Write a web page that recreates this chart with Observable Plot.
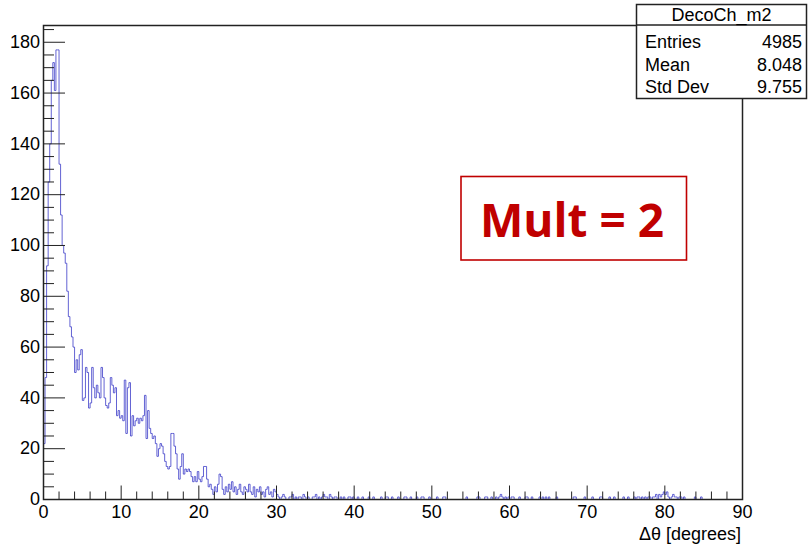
<!DOCTYPE html>
<html><head><meta charset="utf-8">
<script src="https://cdn.jsdelivr.net/npm/d3@7"></script>
<script src="https://cdn.jsdelivr.net/npm/@observablehq/plot@0.6"></script>
<style>
html,body{margin:0;padding:0;background:#fff;}
#chart{position:relative;width:809px;height:547px;}
</style></head><body><div id="chart"></div>
<script>
// ---- data ----
const binWidth = 0.2;
const xRange = [0, 90];
const counts = [
  // 0-30 deg
  22,48,92,125,140,165,172,161,177,177,
  132,112,100,97,93,82,72,68,64,60,
  50,55,51,57,59,39,40,52,50,36,
  38,52,44,40,45,42,40,52,48,40,
  37,36,38,48,45,42,44,33,35,32,
  33,31,47,26,44,46,25,33,29,31,
  32,30,32,31,33,41,24,35,28,26,
  24,25,22,17,20,22,21,18,15,13,
  12,13,26,26,21,18,12,8,13,18,
  10,12,11,12,11,9,7,9,7,11,
  8,7,9,13,13,8,5,6,4,2,
  5,3,6,10,9,4,2,5,3,6,
  4,7,3,5,2,4,6,3,2,5,
  4,3,6,3,2,5,1,4,3,5,
  2,3,1,4,5,2,3,1,4,3,
  // 30-40 deg
  2,1,0,1,2,1,0,0,1,1, 2,0,1,0,1,1,0,2,1,0, 1,0,0,1,1,2,0,1,0,1, 2,1,1,0,2,1,0,1,1,0, 0,1,0,1,0,0,1,1,0,1,
  // 40-50 deg
  0,0,1,0,0,1,0,0,0,1, 0,0,1,0,0,0,0,1,0,0, 1,1,0,0,1,0,0,0,1,0, 0,0,1,1,0,0,1,0,0,0, 1,0,0,1,1,0,0,0,1,0,
  // 50-60 deg
  0,0,0,1,0,0,0,1,1,0, 0,0,0,0,0,0,0,0,0,0, 0,0,1,0,0,0,0,0,0,1, 1,0,0,0,1,1,0,0,1,0, 0,1,0,1,2,1,0,1,0,1,
  // 60-70 deg
  0,1,1,0,0,0,1,0,0,0, 1,1,0,0,1,0,0,0,0,1, 0,1,0,1,0,1,0,0,0,0, 1,0,0,0,0,0,0,0,0,0, 0,1,1,0,0,0,0,0,1,0,
  // 70-80 deg
  0,0,0,1,0,0,0,0,1,1, 0,0,0,0,1,0,0,1,0,0, 0,0,0,1,0,0,1,0,0,0, 1,0,1,1,0,1,0,1,0,1, 1,0,1,1,2,0,2,1,2,3,
  // 80-90 deg
  2,3,1,0,1,2,1,1,0,1, 1,0,1,0,0,0,0,0,0,1, 0,0,0,1,0,0,0,0,0,0, 0,0,0,0,0,0,0,0,0,0, 0,0,0,0,0,0,0,0,0,0
];
const xMajorTicks = [0,10,20,30,40,50,60,70,80,90];
const xMinorTicks = [2,4,6,8,12,14,16,18,22,24,26,28,32,34,36,38,42,44,46,48,52,54,56,58,62,64,66,68,72,74,76,78,82,84,86,88];
const yMajorTicks = [0,20,40,60,80,100,120,140,160,180];
const yMinorTicks = [5,10,15,25,30,35,45,50,55,65,70,75,85,90,95,105,110,115,125,130,135,145,150,155,165,170,175,185];
const yMax = 186.6;
const xLabel = "Δθ [degrees]";
const statsTitle = "DecoCh_m2";
const statsNames = ["Entries", "Mean", "Std Dev"];
const statsValues = ["4985", "8.048", "9.755"];
const annotationText = "Mult = 2";

// ---- build ----
const steps = [{x: xRange[0], y: 0}]
  .concat(counts.map((c, i) => ({x: xRange[0] + i * binWidth, y: c})))
  .concat([{x: xRange[1], y: counts[counts.length - 1]}]);

const W = 809, H = 547, mL = 43, mR = 67, mT = 25, mB = 48;
const pw = W - mL - mR, ph = H - mT - mB;
const axisColor = "#222";
const font = "'Liberation Sans', Arial, sans-serif";

const plot = Plot.plot({
  width: W, height: H,
  marginLeft: mL, marginRight: mR, marginTop: mT, marginBottom: mB,
  style: {fontFamily: font, fontSize: "18px", color: "#000", background: "#fff"},
  x: {domain: xRange},
  y: {domain: [0, yMax]},
  marks: [
    Plot.lineY(steps, {x: "x", y: "y", curve: "step-after", stroke: "#3c3cc8", strokeOpacity: 0.8, strokeWidth: 1}),
    Plot.tickY(yMajorTicks, {y: d => d, insetRight: pw - 22, stroke: axisColor}),
    Plot.tickY(yMinorTicks, {y: d => d, insetRight: pw - 11, stroke: axisColor}),
    Plot.tickX(xMajorTicks, {x: d => d, insetTop: ph - 13.5, stroke: axisColor}),
    Plot.tickX(xMinorTicks, {x: d => d, insetTop: ph - 7.5, stroke: axisColor}),
    Plot.axisY(yMajorTicks, {tickSize: 0, tickPadding: 3.5, label: null}),
    Plot.axisX(xMajorTicks, {tickSize: 0, tickPadding: 6, label: null}),
    Plot.frame({stroke: axisColor, strokeWidth: 1.5})
  ]
});

const svg = d3.select(plot);
// x axis title
svg.append("text").attr("x", 741).attr("y", 540).attr("text-anchor", "end")
  .attr("font-family", font).attr("font-size", 18).attr("fill", "#000").text(xLabel);
// stats box
const sb = svg.append("g").attr("font-family", font).attr("font-size", 18).attr("fill", "#000");
const bx = 636.5, by = 4.5, bw = 170, bh = 94;
sb.append("rect").attr("x", bx).attr("y", by).attr("width", bw).attr("height", bh)
  .attr("fill", "#fff").attr("stroke", axisColor).attr("stroke-width", 1.5);
sb.append("line").attr("x1", bx).attr("x2", bx + bw).attr("y1", 25).attr("y2", 25)
  .attr("stroke", axisColor).attr("stroke-width", 1.5);
sb.append("text").attr("x", bx + bw / 2).attr("y", 21).attr("text-anchor", "middle").text(statsTitle);
statsNames.forEach((n, i) => {
  const yb = 48 + i * 22.5;
  sb.append("text").attr("x", 645).attr("y", yb).attr("text-anchor", "start").text(n);
  sb.append("text").attr("x", 802).attr("y", yb).attr("text-anchor", "end").text(statsValues[i]);
});
// annotation box
const ab = svg.append("g");
ab.append("rect").attr("x", 461).attr("y", 176.5).attr("width", 225.5).attr("height", 83.5)
  .attr("fill", "#fff").attr("stroke", "#c00000").attr("stroke-width", 1.6);
ab.append("text").attr("x", 572).attr("y", 237).attr("text-anchor", "middle")
  .attr("font-family", "'Open Sans', Lato, sans-serif").attr("font-weight", "bold").attr("font-size", 46)
  .attr("fill", "#c00000").text(annotationText);

document.getElementById("chart").appendChild(plot);
</script>
</body></html>
